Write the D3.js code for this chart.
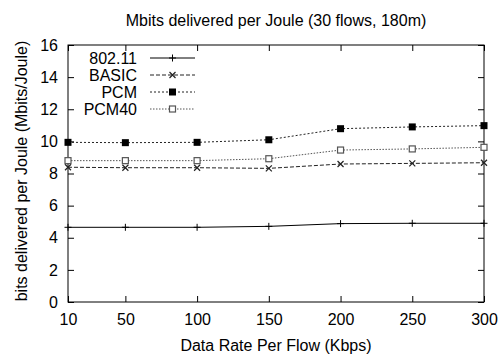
<!DOCTYPE html>
<html lang="en">
<head>
    <meta charset="UTF-8">
    <title>Mbits delivered per Joule</title>
    <script src="https://d3js.org/d3.v7.min.js"></script>
    <style>
        body { margin: 0; background: #fff; }
        svg text { font-family: "Liberation Sans", Arial, Helvetica, sans-serif; fill: #000; }
    </style>
</head>
<body>
    <div id="chart"></div>

    <script>
        // Data
        const rates = [10, 50, 100, 150, 200, 250, 300];
        const wifi = [4.65, 4.65, 4.65, 4.71, 4.88, 4.9, 4.9];
        const basic = [8.39, 8.36, 8.36, 8.32, 8.59, 8.63, 8.67];
        const pcm = [9.94, 9.92, 9.94, 10.1, 10.79, 10.9, 10.98];
        const pcm40 = [8.8, 8.8, 8.8, 8.92, 9.46, 9.53, 9.63];
        const seriesNames = ["802.11", "BASIC", "PCM", "PCM40"];
        const yTicks = [0, 2, 4, 6, 8, 10, 12, 14, 16];

        const width = 504, height = 354;
        const margin = { top: 45, right: 20, bottom: 52, left: 68 };
        const innerW = width - margin.left - margin.right;
        const innerH = height - margin.top - margin.bottom;
        const fontSize = "16px";

        const svg = d3.select("#chart").append("svg")
            .attr("width", width)
            .attr("height", height);

        const g = svg.append("g")
            .attr("transform", "translate(" + margin.left + "," + margin.top + ")");

        const x = d3.scaleLinear().domain([10, 300]).range([0, innerW]);
        const y = d3.scaleLinear().domain([0, 16]).range([innerH, 0]);

        // Series styles (gnuplot-like)
        const styles = [
            { values: wifi, dash: null, color: "#000", marker: "plus" },
            { values: basic, dash: "4,2", color: "#222", marker: "cross" },
            { values: pcm, dash: "2,2", color: "#222", marker: "filled" },
            { values: pcm40, dash: "1.5,1.5", color: "#555", marker: "open" }
        ];

        // Axes with inward ticks on all four sides
        const tickLen = 6;
        g.append("g")
            .attr("transform", "translate(0," + innerH + ")")
            .call(d3.axisBottom(x).tickValues(rates).tickSizeInner(-tickLen).tickSizeOuter(0).tickPadding(12))
            .call(a => a.select(".domain").remove());
        g.append("g")
            .call(d3.axisTop(x).tickValues(rates).tickSizeInner(-tickLen).tickSizeOuter(0).tickFormat(""))
            .call(a => a.select(".domain").remove());
        g.append("g")
            .call(d3.axisLeft(y).tickValues(yTicks).tickSizeInner(-tickLen).tickSizeOuter(0).tickPadding(10))
            .call(a => a.select(".domain").remove());
        g.append("g")
            .attr("transform", "translate(" + innerW + ",0)")
            .call(d3.axisRight(y).tickValues(yTicks).tickSizeInner(-tickLen).tickSizeOuter(0).tickFormat(""))
            .call(a => a.select(".domain").remove());

        g.selectAll(".tick text")
            .style("font-size", fontSize);
        g.selectAll(".tick line").attr("stroke", "#000");

        // Frame
        g.append("rect")
            .attr("width", innerW)
            .attr("height", innerH)
            .attr("fill", "none")
            .attr("stroke", "#000")
            .attr("stroke-width", 1);

        function drawMarker(sel, type, cx, cy, color) {
            const s = 3.5;
            if (type === "plus") {
                sel.append("path")
                    .attr("d", `M${cx - s},${cy}H${cx + s}M${cx},${cy - s}V${cy + s}`)
                    .attr("stroke", color).attr("stroke-width", 1);
            } else if (type === "cross") {
                sel.append("path")
                    .attr("d", `M${cx - s + 0.5},${cy - s + 0.5}L${cx + s - 0.5},${cy + s - 0.5}M${cx - s + 0.5},${cy + s - 0.5}L${cx + s - 0.5},${cy - s + 0.5}`)
                    .attr("stroke", color).attr("stroke-width", 1.2);
            } else if (type === "filled") {
                sel.append("rect")
                    .attr("x", cx - s).attr("y", cy - s)
                    .attr("width", 2 * s).attr("height", 2 * s)
                    .attr("fill", "#000");
            } else {
                sel.append("rect")
                    .attr("x", cx - s + 0.5).attr("y", cy - s + 0.5)
                    .attr("width", 2 * s - 1).attr("height", 2 * s - 1)
                    .attr("fill", "#fff").attr("stroke", color).attr("stroke-width", 1.2);
            }
        }

        const line = d3.line()
            .x(d => x(d[0]))
            .y(d => y(d[1]));

        styles.forEach(st => {
            const pts = rates.map((r, i) => [r, st.values[i]]);
            g.append("path")
                .datum(pts)
                .attr("fill", "none")
                .attr("stroke", st.color)
                .attr("stroke-width", 1)
                .attr("stroke-dasharray", st.dash)
                .attr("d", line);
            const mg = g.append("g");
            pts.forEach(p => drawMarker(mg, st.marker, x(p[0]), y(p[1]), st.color));
        });

        // Legend
        const legend = g.append("g");
        styles.forEach((st, i) => {
            const ly = 13 + i * 17;
            legend.append("text")
                .attr("x", 69)
                .attr("y", ly)
                .attr("dy", "0.35em")
                .attr("text-anchor", "end")
                .style("font-size", fontSize)
                .text(seriesNames[i]);
            legend.append("line")
                .attr("x1", 82).attr("x2", 127)
                .attr("y1", ly).attr("y2", ly)
                .attr("stroke", st.color)
                .attr("stroke-dasharray", st.dash);
            drawMarker(legend, st.marker, 104.5, ly, st.color);
        });

        // Title
        svg.append("text")
            .attr("x", 276)
            .attr("y", 26)
            .attr("text-anchor", "middle")
            .style("font-size", fontSize)
            .text("Mbits delivered per Joule (30 flows, 180m)");

        // Axis labels
        svg.append("text")
            .attr("x", 276)
            .attr("y", 351)
            .attr("text-anchor", "middle")
            .style("font-size", fontSize)
            .text("Data Rate Per Flow (Kbps)");

        svg.append("text")
            .attr("transform", "translate(27,171) rotate(-90)")
            .attr("text-anchor", "middle")
            .style("font-size", fontSize)
            .text("bits delivered per Joule (Mbits/Joule)");
    </script>
</body>
</html>
